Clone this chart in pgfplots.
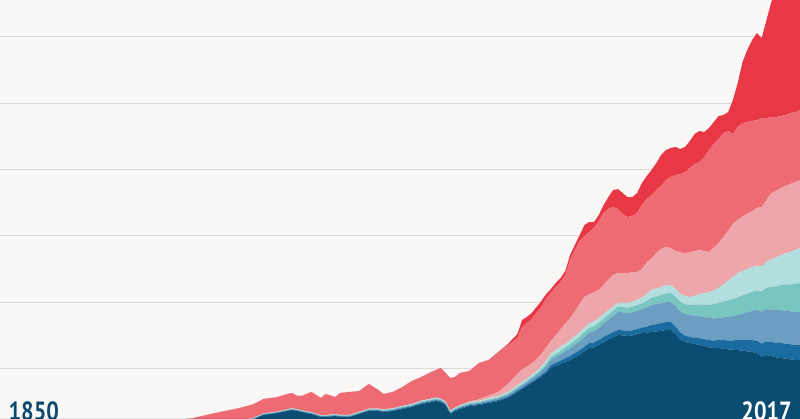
\documentclass[border=0pt]{standalone}
\usepackage{pgfplots}
\usepackage{pgfplotstable}
\pgfplotsset{compat=1.18}
\usepackage{fontspec}
\newfontfamily\labelfont[FakeStretch=0.84]{PT Sans}
\definecolor{bgc}{HTML}{F9F8F6}
\definecolor{gridc}{HTML}{DCDBD9}
\definecolor{cNavy}{HTML}{0B4D72}
\definecolor{cMed}{HTML}{1A6BA0}
\definecolor{cSteel}{HTML}{6B9EC0}
\definecolor{cTeal}{HTML}{79C5C0}
\definecolor{cLtTeal}{HTML}{B2DFDE}
\definecolor{cPink}{HTML}{EDA6AA}
\definecolor{cSalmon}{HTML}{EF6B74}
\definecolor{cRed}{HTML}{E83845}
\definecolor{cLabel}{HTML}{0D4B6E}
\pgfplotstableread{
year a b c d e f g h
1850 0.02 0.003 0.003 0.002 0.003 0 0.169 0
1860 0.05 0.005 0.005 0.003 0.005 0 0.282 0
1870 0.10 0.01 0.01 0.005 0.01 0 0.415 0
1880 0.25 0.015 0.015 0.01 0.015 0 0.545 0
1885 0.35 0.018 0.018 0.012 0.018 0 0.634 0
1890 0.50 0.02 0.02 0.015 0.02 0 0.675 0
1895 0.72 0.025 0.025 0.018 0.025 0 0.847 0
1900 0.95 0.03 0.03 0.02 0.03 0 0.97 0
1903 1.20 0.03 0.03 0.02 0.03 0 1.02 0
1905 1.51 0.03 0.03 0.02 0.03 0 1.09 0
1908 1.66 0.03 0.03 0.02 0.03 0 1.09 0
1910 1.81 0.035 0.035 0.025 0.035 0 1.15 0
1911 1.88 0.035 0.035 0.025 0.035 0 1.15 0
1912 1.81 0.035 0.035 0.025 0.035 0 1.00 0
1913 1.73 0.035 0.035 0.025 0.035 0 1.08 0
1915 1.58 0.035 0.035 0.025 0.035 0 1.53 0
1917 1.36 0.035 0.035 0.025 0.035 0 1.30 0
1918 1.36 0.035 0.035 0.025 0.035 0 1.60 0
1920 1.43 0.04 0.04 0.03 0.04 0 1.28 0
1921 1.36 0.04 0.04 0.03 0.04 0 1.65 0
1923 1.36 0.04 0.04 0.03 0.04 0 1.73 0
1925 1.58 0.045 0.05 0.035 0.045 0 1.555 0
1927 1.81 0.045 0.05 0.035 0.045 0 1.855 0
1928 1.81 0.045 0.05 0.035 0.045 0 1.625 0
1929 1.81 0.045 0.05 0.035 0.045 0 1.405 0
1930 1.73 0.05 0.06 0.04 0.05 0 1.16 0
1932 1.81 0.05 0.06 0.04 0.05 0 1.23 0
1934 1.96 0.055 0.07 0.045 0.06 0 1.42 0
1936 2.11 0.055 0.07 0.045 0.06 0 1.73 0
1938 2.33 0.06 0.08 0.05 0.07 0 1.78 0
1940 2.48 0.06 0.08 0.05 0.07 0 2.00 0
1941 2.56 0.06 0.08 0.05 0.07 0 2.07 0
1942 2.48 0.06 0.08 0.05 0.07 0 2.31 0
1943 2.26 0.06 0.08 0.05 0.07 0 2.15 0
1944 1.58 0.06 0.08 0.05 0.07 0 2.45 0
1945 1.81 0.06 0.08 0.05 0.07 0 2.30 0
1946 1.96 0.06 0.09 0.05 0.07 0.02 2.42 0
1948 2.18 0.065 0.095 0.055 0.075 0.05 2.30 0
1950 2.26 0.07 0.10 0.06 0.08 0.12 2.73 0
1952 2.41 0.075 0.115 0.065 0.09 0.20 2.695 0
1954 2.56 0.08 0.13 0.07 0.10 0.30 3.01 0
1956 2.79 0.09 0.15 0.08 0.12 0.61 2.93 0.08
1957 3.00 0.095 0.165 0.08 0.13 0.73 2.80 0.23
1958 3.24 0.10 0.18 0.08 0.14 0.86 2.70 0.30
1959 3.46 0.10 0.19 0.09 0.15 0.96 3.18 0.53
1960 3.69 0.10 0.20 0.10 0.15 0.91 3.28 0.46
1961 3.92 0.11 0.22 0.11 0.16 0.88 3.34 0.45
1962 4.14 0.12 0.25 0.12 0.18 0.89 3.49 0.45
1963 4.38 0.14 0.30 0.14 0.21 0.93 3.54 0.45
1964 4.65 0.17 0.35 0.17 0.25 1.01 3.64 0.38
1965 5.05 0.20 0.40 0.20 0.30 0.93 3.61 0.30
1966 5.20 0.22 0.44 0.23 0.30 1.11 3.65 0.30
1967 5.35 0.25 0.48 0.26 0.30 1.31 3.57 0.30
1968 5.50 0.28 0.53 0.29 0.30 1.50 3.65 0.30
1969 5.65 0.30 0.58 0.32 0.30 1.65 4.38 0.37
1970 5.85 0.32 0.63 0.33 0.31 1.86 4.61 0.40
1971 6.05 0.33 0.69 0.34 0.32 2.12 4.76 0.45
1972 6.30 0.35 0.75 0.35 0.33 2.31 4.59 0.83
1973 6.55 0.36 0.80 0.36 0.35 2.18 4.69 0.75
1974 6.60 0.37 0.85 0.37 0.36 2.20 4.84 0.45
1975 6.78 0.38 0.90 0.38 0.38 2.10 5.19 0.46
1976 7.00 0.38 1.00 0.38 0.36 2.18 5.42 0.60
1977 7.20 0.38 1.10 0.38 0.34 2.30 5.32 0.90
1978 7.35 0.38 1.25 0.38 0.32 2.37 5.12 1.28
1979 7.53 0.38 1.36 0.38 0.30 2.25 4.82 1.50
1980 7.50 0.38 1.36 0.39 0.33 2.24 4.44 1.58
1981 7.45 0.38 1.36 0.40 0.36 2.25 4.22 1.50
1982 7.50 0.38 1.36 0.42 0.39 2.20 4.24 1.43
1983 7.60 0.38 1.36 0.44 0.42 2.07 4.45 1.50
1984 7.68 0.40 1.38 0.45 0.45 2.14 4.82 1.66
1985 7.70 0.46 1.44 0.49 0.52 2.39 4.77 1.73
1986 7.76 0.53 1.51 0.53 0.60 2.37 4.77 1.89
1987 7.80 0.55 1.51 0.57 0.60 2.67 4.75 2.03
1988 7.85 0.57 1.51 0.61 0.60 2.86 4.75 2.33
1989 7.91 0.59 1.51 0.65 0.60 2.90 5.04 2.26
1990 7.91 0.60 1.51 0.68 0.60 2.78 5.35 2.18
1991 7.60 0.56 1.55 0.70 0.60 2.84 5.73 2.11
1992 7.20 0.52 1.59 0.72 0.60 3.12 5.90 1.89
1993 7.00 0.48 1.63 0.74 0.60 3.25 6.10 1.89
1994 6.93 0.45 1.66 0.75 0.60 3.36 6.35 2.04
1995 6.85 0.47 1.66 0.81 0.69 3.37 6.56 2.26
1996 6.80 0.50 1.66 0.88 0.78 3.31 6.63 2.33
1997 6.70 0.52 1.66 0.94 0.87 3.16 7.08 1.89
1998 6.60 0.55 1.66 1.00 0.96 3.01 7.68 1.66
1999 6.55 0.57 1.66 1.07 1.04 3.21 7.81 1.66
2000 6.55 0.60 1.66 1.13 1.13 3.39 7.83 1.73
2001 6.50 0.64 1.72 1.19 1.30 3.55 7.84 1.36
2002 6.45 0.68 1.77 1.25 1.47 3.78 7.49 1.43
2003 6.42 0.71 1.83 1.30 1.64 4.00 6.77 2.56
2004 6.40 0.75 1.88 1.36 1.81 4.00 6.99 3.32
2005 6.35 0.80 1.99 1.39 1.82 4.10 7.04 4.60
2006 6.30 0.84 2.09 1.42 1.84 4.16 6.92 5.43
2007 6.25 0.89 2.20 1.45 1.85 4.21 6.79 6.10
2008 6.17 0.94 2.30 1.48 1.87 4.34 6.62 6.55
2009 5.90 0.98 2.41 1.51 1.88 4.49 6.70 6.02
2010 6.02 1.02 2.43 1.60 1.97 4.66 6.17 7.38
2011 5.95 1.06 2.45 1.70 2.07 4.97 5.75 8.65
2012 5.85 1.09 2.46 1.79 2.16 5.05 5.55 9.55
2013 5.80 1.13 2.48 1.88 2.26 5.05 5.42 10.24
2014 5.75 1.13 2.48 1.96 2.36 5.07 5.35 10.50
2015 5.70 1.13 2.48 2.03 2.45 5.11 5.35 10.35
2016 5.65 1.13 2.48 2.11 2.55 5.13 5.27 10.28
2017 5.65 1.13 2.48 2.18 2.64 5.12 5.27 10.53
}\data
\begin{document}
\begin{tikzpicture}
\begin{axis}[
  name=ax,
  scale only axis,
  width=16cm, height=8.38cm,
  xmin=1850, xmax=2017,
  ymin=1.205, ymax=32.76,
  axis line style={draw=none},
  major tick length=0pt,
  xtick=\empty,
  ytick={5,10,15,20,25,30},
  yticklabels={},
  ymajorgrids,
  grid style={color=gridc, line width=0.6pt},
  axis background/.style={fill=bgc},
  stack plots=y,
]
\addplot[draw=none, fill=cNavy] table[x=year, y=a] {\data} \closedcycle;
\addplot[draw=none, fill=cMed] table[x=year, y=b] {\data} \closedcycle;
\addplot[draw=none, fill=cSteel] table[x=year, y=c] {\data} \closedcycle;
\addplot[draw=none, fill=cTeal] table[x=year, y=d] {\data} \closedcycle;
\addplot[draw=none, fill=cLtTeal] table[x=year, y=e] {\data} \closedcycle;
\addplot[draw=none, fill=cPink] table[x=year, y=f] {\data} \closedcycle;
\addplot[draw=none, fill=cSalmon] table[x=year, y=g] {\data} \closedcycle;
\addplot[draw=none, fill=cRed] table[x=year, y=h] {\data} \closedcycle;
\end{axis}
\node[anchor=base west, inner sep=0pt, text=cLabel, font=\labelfont\bfseries\fontsize{15}{16}\selectfont] at ([xshift=0.166cm, yshift=-0.04cm]ax.south west) {1850};
\node[anchor=base east, inner sep=0pt, text=white, font=\labelfont\bfseries\fontsize{15}{16}\selectfont] at ([xshift=-0.16cm, yshift=-0.04cm]ax.south east) {2017};
\pgfresetboundingbox
\useasboundingbox (ax.south west) rectangle (ax.north east);
\end{tikzpicture}
\end{document}
